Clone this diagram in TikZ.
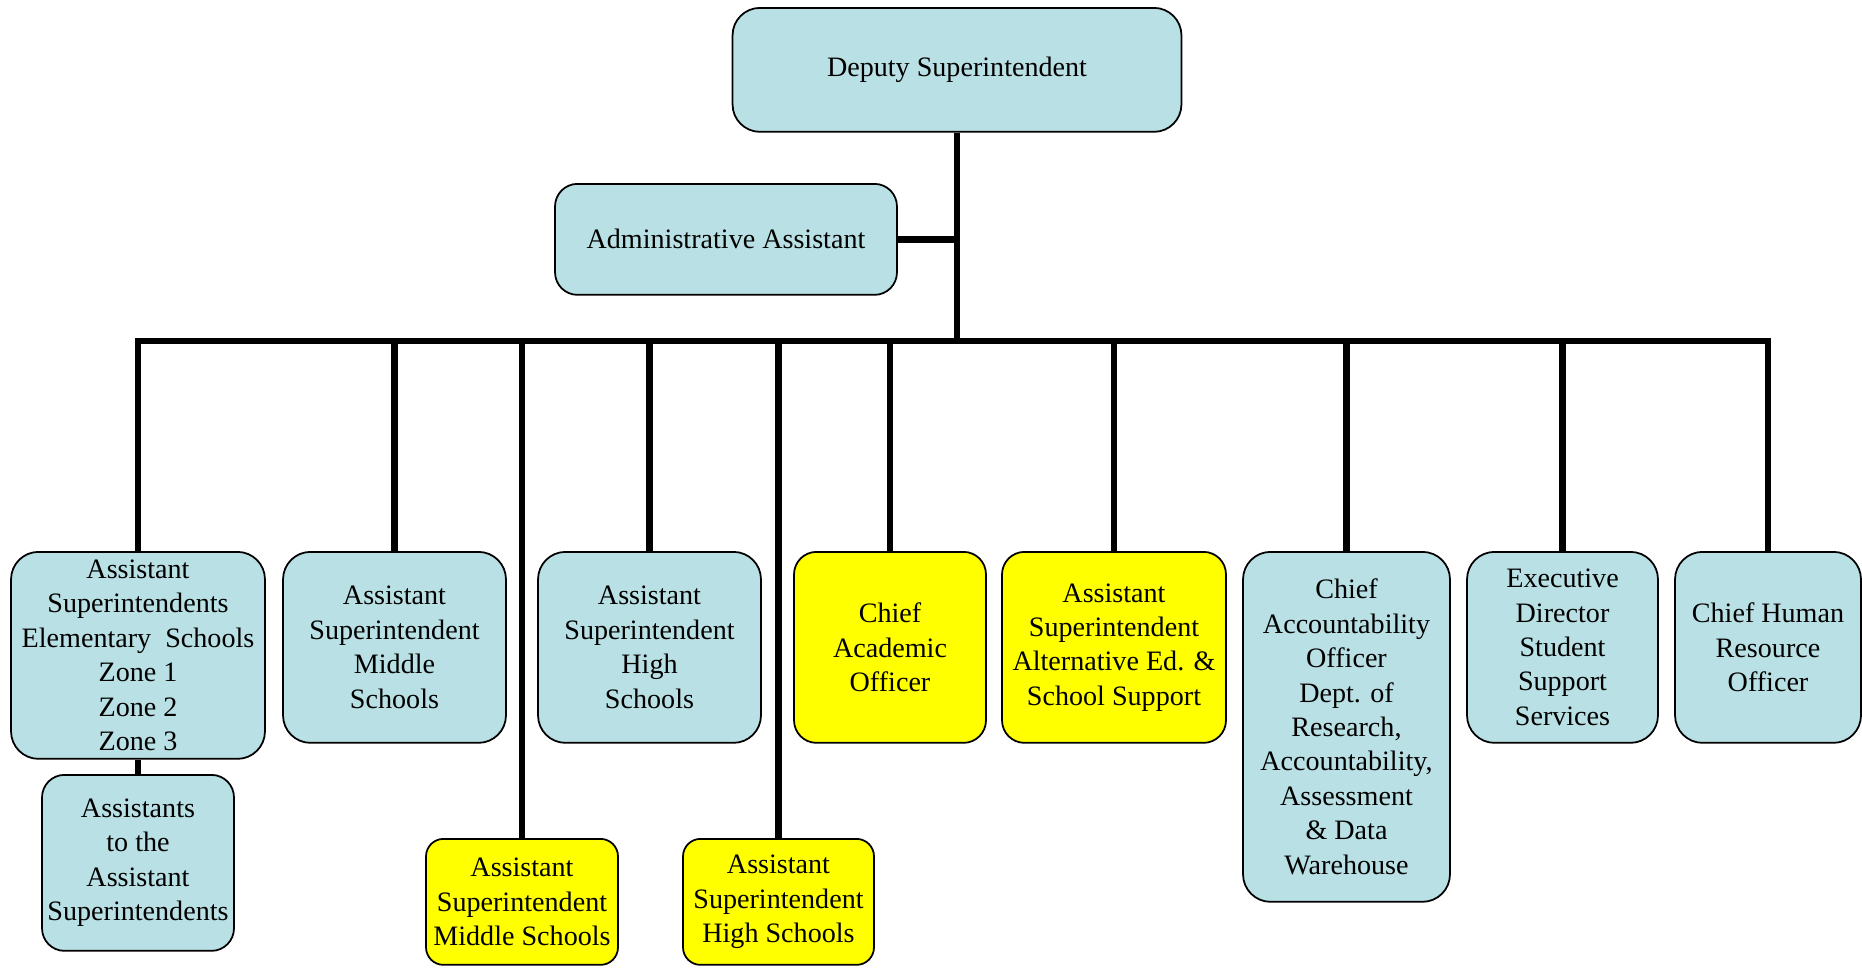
\documentclass[tikz,border=0pt]{standalone}
\usepackage{fontspec}
\setmainfont{Liberation Serif}
\usetikzlibrary{positioning}
\definecolor{paleblue}{RGB}{185,224,228}
\definecolor{hiyellow}{RGB}{255,255,0}
\tikzset{every path/.style={line width=3.6pt},
         unit/.style={draw, line width=1pt, rounded corners=0.55cm, fill=paleblue, align=center,
                       inner sep=0pt, anchor=north, font=\fontsize{16}{19.6}\selectfont},
         newunit/.style={unit, fill=hiyellow, rounded corners=0.45cm}}

\begin{document}
\begin{tikzpicture}[x=0.02cm, y=-0.02cm]
   \useasboundingbox (0,0) rectangle (1862,967);
   % top of the chart
   \node[unit, minimum width=8.98cm, minimum height=2.48cm] (dep) at (957,7) {Deputy Superintendent};
   \node[unit, minimum width=6.84cm, minimum height=2.22cm, rounded corners=0.45cm] (adm) at (726,183) {Administrative Assistant};
   \coordinate (hub) at (957,341);
   % first row
   \node[unit, minimum width=5.08cm, minimum height=4.14cm] (elem) at (138,551)
     {Assistant\\Superintendents\\Elementary\ \ Schools\\Zone 1\\Zone 2\\Zone 3};
   \node[unit, minimum width=4.46cm, minimum height=3.82cm] (msch) at (394.5,551)
     {Assistant\\Superintendent\\Middle\\Schools};
   \node[unit, minimum width=4.46cm, minimum height=3.82cm] (hsch) at (649.5,551)
     {Assistant\\Superintendent\\High\\Schools};
   \node[newunit, minimum width=3.84cm, minimum height=3.82cm] (cao) at (890,551)
     {Chief\\Academic\\Officer};
   \node[newunit, minimum width=4.48cm, minimum height=3.82cm] (alted) at (1114,551)
     {Assistant\\Superintendent\\Alternative Ed. \&\\School Support};
   \node[unit, minimum width=4.14cm, minimum height=7.0cm] (acc) at (1346.5,551)
     {Chief\\Accountability\\Officer\\Dept. of\\Research,\\Accountability,\\Assessment\\\& Data\\Warehouse};
   \node[unit, minimum width=3.82cm, minimum height=3.82cm] (exec) at (1562.5,551)
     {Executive\\Director\\Student\\Support\\Services};
   \node[unit, minimum width=3.72cm, minimum height=3.82cm] (hr) at (1768,551)
     {Chief Human\\Resource\\Officer};
   % lower boxes
   \node[unit, minimum width=3.84cm, minimum height=3.52cm, rounded corners=0.45cm] (aux) at (138,774)
     {Assistants\\to the\\Assistant\\Superintendents};
   \node[newunit, minimum width=3.84cm, minimum height=2.52cm, rounded corners=0.35cm] (mnew) at (522,838)
     {Assistant\\Superintendent\\Middle Schools};
   \node[newunit, minimum width=3.82cm, minimum height=2.52cm, rounded corners=0.35cm] (hnew) at (778.5,838)
     {Assistant\\Superintendent\\High Schools};
   % connectors
   \draw (dep) -- (hub);
   \draw (adm) -- (adm.east -| hub);
   \draw[line cap=rect] (elem.north |- hub) -- (hr.north |- hub);
   \foreach \n in {elem,msch,hsch,cao,alted,acc,exec,hr,mnew,hnew}
     \draw (\n.north) -- (\n.north |- hub);
   \draw (elem) -- (aux);
\end{tikzpicture}
\end{document}
